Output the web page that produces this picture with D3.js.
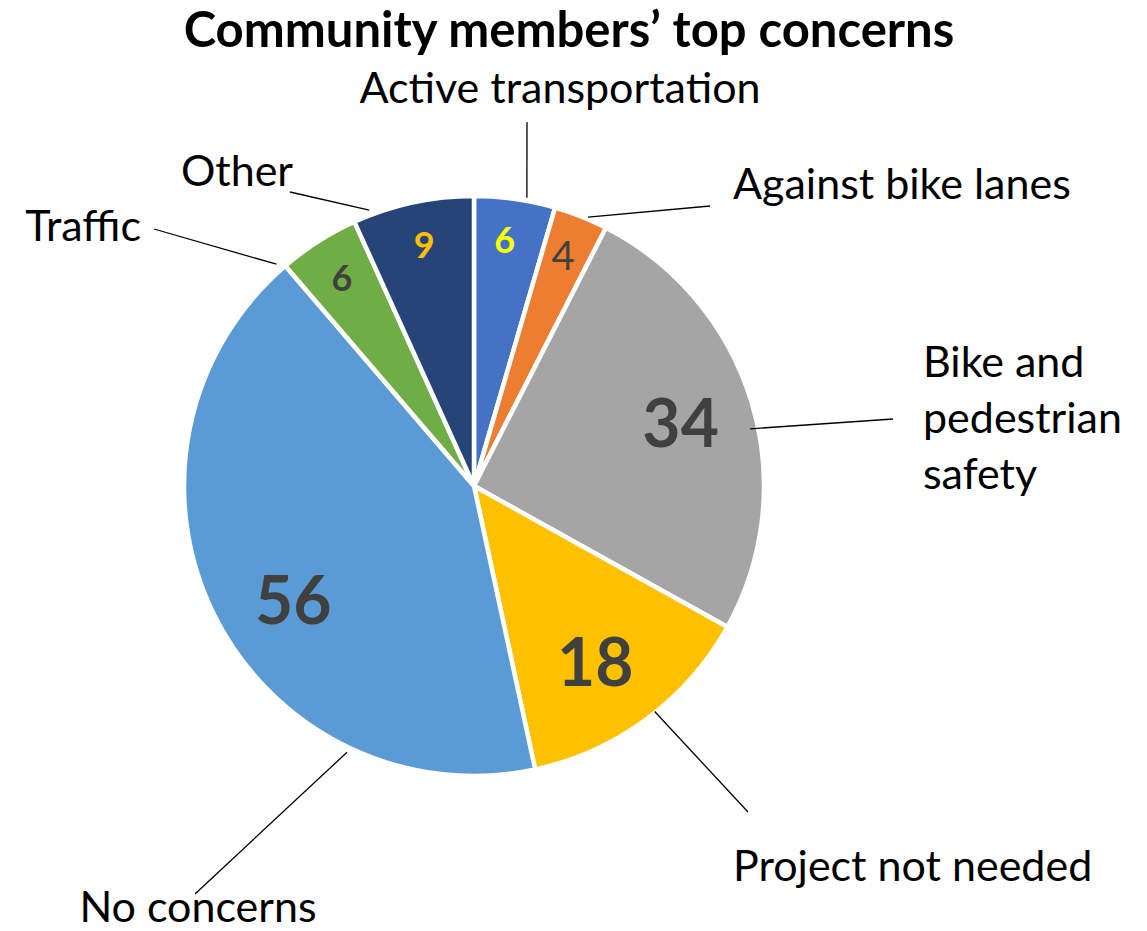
<!DOCTYPE html>
<html>
<head>
<meta charset="utf-8">
<script src="https://cdn.jsdelivr.net/npm/d3@7"></script>
<style>
  body { margin: 0; background: #fff; }
  text { font-family: Lato, "Open Sans", sans-serif; }
</style>
</head>
<body>
<script>
/* globals d3 */

var title = "Community members\u2019 top concerns";
var categories = ["Active transportation", "Against bike lanes", "Bike and pedestrian safety",
  "Project not needed", "No concerns", "Traffic", "Other"];
var values = [6, 4, 34, 18, 56, 6, 9];
var sliceColors = ["#4472C4", "#ED7D31", "#A5A5A5", "#FFC000", "#5B9BD5", "#70AD47", "#264478"];
var valueColors = ["#FFFF00", "#404040", "#404040", "#404040", "#404040", "#404040", "#FFC000"];

var width = 1147;
var height = 931;
var cx = 474, cy = 486, radius = 290;

// where excel put the value labels: distance from centre and angle nudge (deg)
var valuePlacement = [
  {r: 248, nudge: -1, size: 36, weight: 700},
  {r: 247, nudge: -0.5, size: 40, weight: 400},
  {r: 216, nudge: 0, size: 66, weight: 700},
  {r: 214, nudge: 2, size: 66, weight: 700},
  {r: 214, nudge: -6, size: 66, weight: 700},
  {r: 246, nudge: 0, size: 36, weight: 700},
  {r: 246, nudge: 0.5, size: 36, weight: 700}
];

// category labels: wrapped lines, anchor, leader start angle (deg) and leader end
var labelPlacement = [
  {lines: ["Active transportation"], x: 560, y: 103, anchor: "middle", lead: 10.4, lr: 293, end: [527, 122]},
  {lines: ["Against bike lanes"], x: 733, y: 199, anchor: "start", lead: 23, lr: 292, end: [710, 206]},
  {lines: ["Bike and", "pedestrian", "safety"], x: 923, y: 377, anchor: "start", lead: 78.3, lr: 282, end: [893, 419]},
  {lines: ["Project not needed"], x: 733, y: 881, anchor: "start", lead: 141.3, lr: 289, end: [748, 812]},
  {lines: ["No concerns"], x: 198, y: 922, anchor: "middle", lead: 205.5, lr: 295, end: [195, 894]},
  {lines: ["Traffic"], x: 141, y: 241, anchor: "end", lead: 318.3, lr: 297, end: [154, 229]},
  {lines: ["Other"], x: 293, y: 186, anchor: "end", lead: 339.2, lr: 295, end: [290, 192]}
];

var svg = d3.select("body").append("svg")
  .attr("width", width)
  .attr("height", height);

svg.append("text")
  .attr("x", 569)
  .attr("y", 47)
  .attr("text-anchor", "middle")
  .attr("font-size", 49)
  .attr("font-weight", 700)
  .attr("fill", "#000")
  .text(title);

var pie = d3.pie().sort(null).value(function(d) { return d; });
var arcs = pie(values);

var arc = d3.arc().innerRadius(0).outerRadius(radius);

var g = svg.append("g")
  .attr("transform", "translate(" + cx + "," + cy + ")");

g.selectAll(".slice")
  .data(arcs)
  .enter().append("path")
    .attr("class", "slice")
    .attr("d", arc)
    .attr("fill", function(d, i) { return sliceColors[i]; })
    .attr("stroke", "#fff")
    .attr("stroke-width", 4.5)
    .attr("stroke-linejoin", "round");

function polar(r, deg) {
  var a = deg * Math.PI / 180;
  return [r * Math.sin(a), -r * Math.cos(a)];
}

// value labels
g.selectAll(".value")
  .data(arcs)
  .enter().append("text")
    .attr("class", "value")
    .attr("transform", function(d, i) {
      var p = valuePlacement[i];
      var mid = (d.startAngle + d.endAngle) / 2 * 180 / Math.PI + p.nudge;
      var pt = polar(p.r, mid);
      return "translate(" + pt[0] + "," + pt[1] + ")";
    })
    .attr("text-anchor", "middle")
    .attr("dy", "0.36em")
    .attr("font-size", function(d, i) { return valuePlacement[i].size; })
    .attr("font-weight", function(d, i) { return valuePlacement[i].weight; })
    .attr("fill", function(d, i) { return valueColors[i]; })
    .text(function(d) { return d.data; });

// leader lines
svg.selectAll(".leader")
  .data(labelPlacement)
  .enter().append("line")
    .attr("class", "leader")
    .attr("x1", function(d) { return cx + polar(d.lr, d.lead)[0]; })
    .attr("y1", function(d) { return cy + polar(d.lr, d.lead)[1]; })
    .attr("x2", function(d) { return d.end[0]; })
    .attr("y2", function(d) { return d.end[1]; })
    .attr("stroke", "#000")
    .attr("stroke-width", 1.3);

// category labels
var labels = svg.selectAll(".cat")
  .data(labelPlacement)
  .enter().append("text")
    .attr("class", "cat")
    .attr("x", function(d) { return d.x; })
    .attr("y", function(d) { return d.y; })
    .attr("text-anchor", function(d) { return d.anchor; })
    .attr("font-size", 43)
    .attr("fill", "#000");

labels.selectAll("tspan")
  .data(function(d) { return d.lines.map(function(l) { return {text: l, x: d.x}; }); })
  .enter().append("tspan")
    .attr("x", function(d) { return d.x; })
    .attr("dy", function(d, i) { return i === 0 ? 0 : 56; })
    .text(function(d) { return d.text; });
</script>
</body>
</html>
